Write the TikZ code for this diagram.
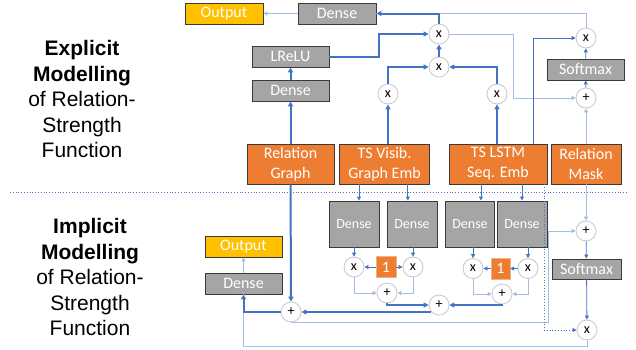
\documentclass[tikz,border=0pt]{standalone}
\usepackage{fontspec}
\setmainfont{Carlito}
\newfontfamily\lblfont{Liberation Sans}
\usetikzlibrary{arrows.meta,
	calc,
	positioning}
\definecolor{orng}{HTML}{ED7D31}
\definecolor{lorng}{HTML}{F4B183}
\definecolor{gry}{HTML}{A5A5A5}
\definecolor{yllw}{HTML}{FFC000}
\definecolor{blu}{HTML}{4472C4}
\definecolor{lblu}{HTML}{A3BDE6}
\definecolor{bdr}{HTML}{3A3A3A}
\definecolor{crc}{HTML}{C8C8C8}
\tikzstyle{box}=[draw=bdr, line width=0.9pt, inner sep=0, text=white, align=center]
\tikzstyle{gb}=[box, fill=gry, font=\fontsize{16}{19}\selectfont]
\tikzstyle{ob}=[box, fill=orng, font=\fontsize{16}{20}\selectfont,
		minimum height=40pt]
\tikzstyle{yb}=[box, fill=yllw, font=\fontsize{16}{19}\selectfont]
\tikzstyle{bar}=[minimum width=77pt, minimum height=21pt]
\tikzstyle{tall}=[minimum width=50pt, minimum height=46pt,
		font=\fontsize{14}{16}\selectfont]
\tikzstyle{one}=[draw=lorng, fill=orng, text=white, inner sep=0,
		minimum width=20pt, minimum height=21pt, font=\fontsize{16}{16}\selectfont]
\tikzstyle{op}=[circle, draw=crc, line width=0.8pt, fill=white, inner sep=0,
		minimum size=20pt, font=\fontsize{14}{14}\selectfont]
\tikzstyle{lbl}=[align=center, font=\lblfont\fontsize{21}{25.5}\selectfont]
\tikzstyle{thk}=[blu, line width=2pt, -{Triangle[length=5pt,width=5pt]}]
\tikzstyle{thn}=[blu, line width=0.8pt, -{Triangle[length=4pt,width=4pt]}]
\tikzstyle{lgt}=[lblu, line width=1pt, -{Triangle[length=4pt,width=4pt]}]
\tikzstyle{dtd}=[blu, dotted, line width=0.8pt, -{Triangle[length=4pt,width=4pt]}]

\begin{document}
\begin{tikzpicture}[x=1pt,y=-1pt]
	\useasboundingbox (0,0) rectangle (636,349);
	% left labels
	\node[lbl] (expl) at (82,99) {\textbf{Explicit}\\\textbf{Modelling}\\of Relation-\\Strength\\Function};
	\node[lbl] (impl) at (90,277) {\textbf{Implicit}\\\textbf{Modelling}\\of Relation-\\Strength\\Function};
	\draw[blu, dotted, line width=0.8pt] (10,192) -- (627,192);

	% explicit part
	\node[yb, bar, minimum width=78pt] (out1) at (224,13.5) {Output};
	\node[gb, bar, minimum width=78pt] (dns1) at (337,13.5) {Dense};
	\node[gb, bar] (lrelu) at (290.5,56.5) {LReLU};
	\node[gb, bar] (dns2) at (290.5,90.5) {Dense};
	\node[ob, minimum width=87pt] (relg) at (290.5,164) {Relation\\Graph};
	\node[ob, minimum width=90pt] (tsv) at (384.5,164) {TS Visib.\\Graph Emb};
	\node[ob, minimum width=98pt] (tsl) at (498,164) {TS LSTM\\Seq. Emb};
	\node[ob, minimum width=70pt] (relm) at (586,164) {Relation\\Mask};
	\node[gb, bar] (sm1) at (585.5,69.5) {Softmax};
	\node[op] (m1) at (439,34) {x};
	\node[op] (m2) at (439,67) {x};
	\node[op] (m3) at (388,94) {x};
	\node[op] (m4) at (497,94) {x};
	\node[op] (m5) at (586,38) {x};
	\node[op] (p1) at (586,98) {+};

	\draw[lgt] (dns1) -- (out1);
	\draw[lgt, -] (m5.north) |- (dns1.east);
	\draw[thk] (m1.north) |- (dns1.east);
	\draw[thk] (relg) -- (dns2);
	\draw[thk] (dns2) -- (lrelu);
	\draw[thk] (lrelu.east) -- ++(50,0) |- (m1.west);
	\draw[thk] (m3 |- tsv.north) -- (m3);
	\draw[thk] (m4 |- tsl.north) -- (m4);
	\draw[thk] (m3.north) |- (m2.west);
	\draw[thk] (m4.north) |- (m2.east);
	\draw[thk] (m2) -- (m1);
	\draw[lgt] (m1.east) -- ++(64,0) |- (p1.west);
	\draw[thn] (tsl.30) |- (m5.west);
	\draw[lgt] (relm) -- (p1);
	\draw[thn] (p1) -- (sm1);
	\draw[thn] (sm1) -- (m5);

	% implicit part
	\node[yb, bar] (out2) at (243.5,246.5) {Output};
	\node[gb, bar] (dns3) at (243.5,283.5) {Dense};
	\node[gb, tall] (dA) at (354,224) {Dense};
	\node[gb, tall] (dB) at (412,224) {Dense};
	\node[gb, tall, minimum width=49pt] (dC) at (470,224) {Dense};
	\node[gb, tall] (dD) at (522,224) {Dense};
	\node[one] (one1) at (386,267) {1};
	\node[one, minimum width=19pt] (one2) at (500.5,268.5) {1};
	\node[op] (b1) at (354,267) {x};
	\node[op] (b2) at (413,267) {x};
	\node[op] (b3) at (473,268.5) {x};
	\node[op] (b4) at (528,268.5) {x};
	\node[op] (p3) at (387,293) {+};
	\node[op] (p4) at (502,294) {+};
	\node[op] (pmid) at (439,305) {+};
	\node[op] (pbig) at (291,312) {+};
	\node[op] (p2) at (586,231) {+};
	\node[gb, bar, minimum width=69pt, minimum height=20pt] (sm2) at (586.5,269) {Softmax};
	\node[op] (m6) at (587,330) {x};

	\draw[thk] (relg) -- (pbig);
	\draw[thn] (dA.78 |- tsv.south) -- (dA.78);
	\draw[thn] (dB.100 |- tsv.south) -- (dB.100);
	\draw[thn] (dC.65 |- tsl.south) -- (dC.65);
	\draw[thn] (dD.north |- tsl.south) -- (dD.north);
	\draw[thn] (dA) -- (b1);
	\draw[thn] (b2 |- dB.south) -- (b2);
	\draw[thn] (b3 |- dC.south) -- (b3);
	\draw[thn] (b4 |- dD.south) -- (b4);
	\draw[thn] (one1) -- (b1);
	\draw[thn] (one1) -- (b2);
	\draw[thn] (one2) -- (b3);
	\draw[thn] (b4) -- (one2);
	\draw[lgt] (b1.south) |- (p3.west);
	\draw[lgt] (b2.south) |- (p3.east);
	\draw[lgt] (b3.south) |- (p4.west);
	\draw[lgt] (b4.south) |- (p4.east);
	\draw[thk] (p3.south) |- (pmid.west);
	\draw[thk] (p4.south) |- (pmid.east);
	\draw[thk] (pmid.220 |- pbig.east) -- (pbig.east);
	\draw[lgt, -] (m6.south) -- ++(0,6) -| (dns3.south);
	\draw[thk] (pbig.west) -| (dns3.south);
	\draw[lgt] (dns3) -- (out2);
	\draw[lgt] (pbig.south) -- ++(257,0) |- (p2.west);
	\draw[lgt] (relm) -- (p2);
	\draw[thn] (p2) -- (sm2);
	\draw[thn] (sm2) -- (m6);
	\draw[dtd] (tsl.-24) |- (m6.west);
\end{tikzpicture}
\end{document}
